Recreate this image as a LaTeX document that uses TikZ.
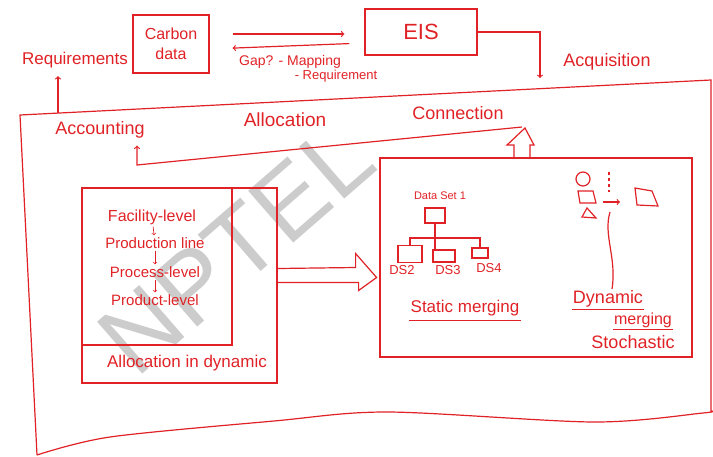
\documentclass[tikz,border=0pt]{standalone}
\usepackage{fontspec}
\setmainfont{Liberation Sans}
\usetikzlibrary{calc}
\definecolor{inkred}{RGB}{224,34,38}

\begin{document}
\begin{tikzpicture}[x=1pt,y=-1pt,
    ink/.style={draw=inkred,line width=1.2pt},
    note/.style={text=inkred,inner sep=1pt,font=\fontsize{#1}{#1}\selectfont},
    note/.default=16]
  \useasboundingbox (0,0) rectangle (713,456);
  % watermark
  \node[text=black!20,rotate=41,font=\fontsize{100}{100}\selectfont] (mark) at (236,248) {NPTEL};
  % top row
  \node[ink,note=16,font=\fontsize{16}{20}\selectfont,align=center,
        minimum width=76pt,minimum height=58pt] (carbon) at (171,44) {Carbon\\data};
  \node[ink,note=22,minimum width=112pt,minimum height=46pt] (eis) at (421,32) {EIS};
  \node[note=17] (requirements) at (75,60) {Requirements};
  \node[note=14] (gap) at (290,62) {Gap? - Mapping};
  \node[note=13] (gapreq) at (336,76) {- Requirement};
  \node[note=18] (acquisition) at (607,62) {Acquisition};
  \draw[ink,->,shorten <=23pt,shorten >=20pt] ([yshift=10pt]carbon.east) -- ([yshift=-2pt]eis.west);
  \draw[ink,->,shorten <=15pt,shorten >=23pt] ([yshift=-11pt]eis.west) -- ([yshift=-5pt]carbon.east);
  \coordinate (acqtip) at (540,78);
  \draw[ink,->] (eis.east) -| (acqtip);
  % outer frame
  \draw[ink] (711,412) -- (711,80) -- (20,115) -- (37,455);
  \draw[ink] plot[smooth] coordinates {(37,455) (110,437) (274,421) (388,412) (594,422) (703,413) (711,411)};
  \coordinate (reqfoot) at (58,113);
  \draw[ink,->,shorten >=7pt] (reqfoot) -- (reqfoot |- requirements.south);
  % frame headings
  \node[note=18] (accounting) at (100,130) {Accounting};
  \node[note=19] (allocation) at (285,120) {Allocation};
  \node[note=18] (connection) at (458,113) {Connection};
  \coordinate (linkstart) at (522,127);
  \coordinate (linkbend) at (137,165);
  \draw[ink,->,shorten >=6pt] (linkstart) -- (linkbend) -- (linkbend |- accounting.south);
  % allocation levels
  \node[ink,minimum width=195pt,minimum height=195pt] (allocbox) at (179.5,285.5) {};
  \node[ink,minimum width=150pt,minimum height=157pt] (levelbox) at (157,266.5) {};
  \node[note=16] (facility) at (152,217) {Facility-level};
  \node[note=15] (production) at (155,243) {Production line};
  \node[note=15] (process) at (155,272) {Process-level};
  \node[note=15] (product) at (155,300) {Product-level};
  \foreach \upper/\lower in {facility/production,production/process,process/product}
    \draw[ink,->,line width=.7pt,shorten <=1pt,shorten >=1pt] (\upper) -- (\lower);
  \node[note=17] (dynalloc) at (187,363) {Allocation in dynamic};
  \draw[ink] ([yshift=17pt]allocbox.east) -- ++(78,-1) -- ++(0,-14) -- ++(21,24)
    -- ++(-18,13) -- ++(0,-8) -- ([yshift=3pt]allocbox.east);
  % merging
  \node[ink,minimum width=312pt,minimum height=199pt] (mergebox) at (536,257.5) {};
  \draw[ink] (514,158) -- (514,145) -- (507,145) -- (525,128) -- (534,145) -- (530,145) -- (530,158);
  \node[note=11] (dataset) at (440,196) {Data Set 1};
  \node[ink,minimum width=20pt,minimum height=15pt] (setone) at (435,215.5) {};
  \node[ink,minimum width=24pt,minimum height=17pt] (settwo) at (410,254) {};
  \node[ink,minimum width=22pt,minimum height=12pt] (setthree) at (444,256) {};
  \node[ink,minimum width=16pt,minimum height=10pt] (setfour) at (480,253) {};
  \coordinate (branch) at (setone.south |- 0,238);
  \draw[ink] (setone.south) -- (branch);
  \draw[ink] (settwo.north) |- (branch) -| (setfour.north);
  \draw[ink] (branch) -- (branch |- setthree.north);
  \node[note=13] (dstwo) at (402,270) {DS2};
  \node[note=13] (dsthree) at (448,270) {DS3};
  \node[note=13] (dsfour) at (489,268) {DS4};
  \node[note=17] (static) at (465,308) {Static merging};
  \draw[ink] ([yshift=-3pt]static.south west) -- ([yshift=-3pt]static.south east);
  \draw[ink] (583,179) circle (7);
  \draw[ink] (578,191) -- (593,191) -- (596,203) -- (580,203) -- cycle;
  \draw[ink] (582,217) -- (587,208) -- (596,218) -- cycle;
  \draw[ink] (635,188) -- (652,191) -- (658,206) -- (637,205) -- cycle;
  \draw[ink,dashed] (609,172) -- (609,192);
  \draw[ink,->] (603,202) -- (620,202);
  \draw[ink] (610,212) .. controls (603,235) and (617,258) .. (612,289);
  \node[note=18] (dynmerge) at (608,299) {Dynamic};
  \node[note=16] (merging) at (643,320) {merging};
  \node[note=18] (stochastic) at (633,342) {Stochastic};
  \draw[ink] ([yshift=-1pt]dynmerge.south west) -- ([yshift=-1pt]dynmerge.south east);
  \draw[ink] ([yshift=-1pt]merging.south west) -- ([yshift=-1pt]merging.south east);
\end{tikzpicture}
\end{document}
